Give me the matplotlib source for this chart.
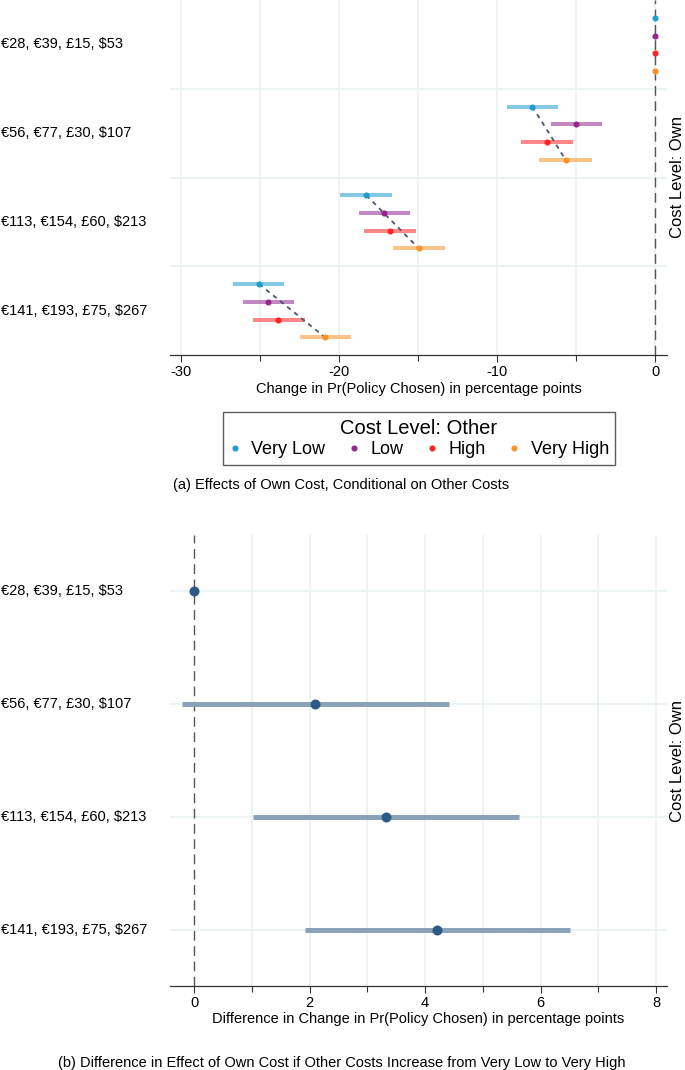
import matplotlib
matplotlib.use("Agg")
import matplotlib.pyplot as plt
import matplotlib.transforms as mtrans
from matplotlib.lines import Line2D
import numpy as np

plt.rcParams['font.family'] = ['Liberation Sans', 'DejaVu Sans']

# ---------------- data ----------------
own_levels = ["€28, €39, £15, $53", "€56, €77, £30, $107",
              "€113, €154, £60, $213", "€141, €193, £75, $267"]
other_levels = ["Very Low", "Low", "High", "Very High"]

est_very_low = [0, -7.78, -18.29, -25.08]
lo_very_low = [0, -9.41, -19.94, -26.73]
hi_very_low = [0, -6.18, -16.67, -23.48]

est_low = [0, -5.02, -17.15, -24.49]
lo_low = [0, -6.62, -18.77, -26.09]
hi_low = [0, -3.37, -15.51, -22.87]

est_high = [0, -6.85, -16.81, -23.86]
lo_high = [0, -8.48, -18.46, -25.44]
hi_high = [0, -5.21, -15.13, -22.16]

est_very_high = [0, -5.67, -14.96, -20.91]
lo_very_high = [0, -7.34, -16.61, -22.51]
hi_very_high = [0, -3.99, -13.32, -19.28]

diff_est = [0, 2.10, 3.32, 4.21]
diff_lo = [0, -0.22, 1.01, 1.92]
diff_hi = [0, 4.42, 5.63, 6.51]

top_xticks = [-30, -20, -10, 0]
top_minor = [-25, -15, -5]
bot_xticks = [0, 2, 4, 6, 8]
bot_minor = [1, 3, 5, 7]

# ---------------- styling ----------------
colors = ["#229cd0", "#93278f", "#ff2424", "#ff9326"]
grid_c = "#e9f1f3"
W, H = 685, 1070
fig = plt.figure(figsize=(W / 100, H / 100), dpi=100)


def fx(px):
    return px / W


def fy(py):
    return 1 - py / H


ax1 = fig.add_axes([fx(170), fy(355), fx(667) - fx(170), fy(0) - fy(355)])
ax2 = fig.add_axes([fx(170), fy(986), fx(667) - fx(170), fy(535) - fy(986)])

FS = 10.5


def style_axes(ax):
    for s in ["left", "right", "top"]:
        ax.spines[s].set_visible(False)
    ax.spines["bottom"].set_color("#333333")
    ax.spines["bottom"].set_linewidth(0.9)
    ax.tick_params(axis="x", which="major", length=5, width=0.8, color="#333333",
                   labelsize=FS, pad=2)
    ax.tick_params(axis="x", which="minor", length=4, width=0.8, color="#333333")
    ax.set_yticks([])


# ---------------- top panel ----------------
ests = [est_very_low, est_low, est_high, est_very_high]
los = [lo_very_low, lo_low, lo_high, lo_very_high]
his = [hi_very_low, hi_low, hi_high, hi_very_high]
offsets = [-0.3, -0.1, 0.1, 0.3]
n = len(own_levels)
base = np.arange(n)

style_axes(ax1)
ax1.set_xlim(-30.72, 0.75)
ax1.set_ylim(n - 0.5, -0.5)
for gx in np.arange(-30, 0.1, 5):
    ax1.axvline(gx, color=grid_c, lw=1.2, zorder=0)
for gy in np.arange(0.5, n - 0.6, 1):
    ax1.axhline(gy, color=grid_c, lw=1.2, zorder=0)
ax1.axvline(0, color="#555555", lw=1.0, dashes=(7, 4), zorder=1)

for k in range(4):
    y = base + offsets[k]
    ax1.hlines(y, los[k], his[k], color=colors[k], alpha=0.55, lw=2.9, zorder=2)
    ax1.plot(ests[k], y, "o", color=colors[k], ms=4.4, mec="none", zorder=4)

for i in range(1, n):
    ax1.plot([est_very_low[i], est_very_high[i]],
             [base[i] + offsets[0], base[i] + offsets[3]],
             color="#4b5670", lw=1.3, dashes=(2.5, 2.5), zorder=3)

ax1.set_xticks(top_xticks)
ax1.set_xticks(top_minor, minor=True)
ax1.set_xticklabels([str(t) for t in top_xticks])
ax1.set_xlabel("Change in Pr(Policy Chosen) in percentage points", fontsize=FS, labelpad=2)

# ---------------- bottom panel ----------------
style_axes(ax2)
ax2.set_xlim(-0.42, 8.19)
ax2.set_ylim(n - 0.5, -0.5)
for gx in range(1, 9):
    ax2.axvline(gx, color=grid_c, lw=1.2, zorder=0)
for gy in range(n):
    ax2.axhline(gy, color=grid_c, lw=1.2, zorder=0)
ax2.axvline(0, color="#555555", lw=1.0, dashes=(7, 4), zorder=1)
ax2.hlines(base, diff_lo, diff_hi, color="#8aa1b8", lw=3.6, zorder=2)
ax2.plot(diff_est, base, "o", color="#2d5985", ms=7.2, mec="none", zorder=4)
ax2.set_xticks(bot_xticks)
ax2.set_xticks(bot_minor, minor=True)
ax2.set_xticklabels([str(t) for t in bot_xticks])
ax2.set_xlabel("Difference in Change in Pr(Policy Chosen) in percentage points",
               fontsize=FS, labelpad=2)

# category labels (left aligned at figure edge)
for ax in (ax1, ax2):
    tr = mtrans.blended_transform_factory(fig.transFigure, ax.transData)
    for i, lab in enumerate(own_levels):
        ax.text(1 / W, i, lab, transform=tr, fontsize=FS, ha="left", va="center")

# right-side labels
fig.text(fx(678), (fy(0) + fy(355)) / 2, "Cost Level: Own", rotation=90,
         ha="center", va="center", fontsize=12)
fig.text(fx(678), (fy(535) + fy(986)) / 2, "Cost Level: Own", rotation=90,
         ha="center", va="center", fontsize=12)

# legend
handles = [Line2D([], [], marker="o", ls="none", color=c, ms=4.4, mec="none")
           for c in colors]
leg = fig.legend(handles, other_levels, loc="center",
                 bbox_to_anchor=(fx(419), fy(438.5)), ncol=4, fontsize=13,
                 title="Cost Level: Other", title_fontsize=14.5, frameon=True,
                 fancybox=False, edgecolor="#333333", handlelength=0.6,
                 handletextpad=0.6, columnspacing=1.3, borderpad=0.35,
                 labelspacing=0.2)
leg.get_frame().set_linewidth(1.0)

# captions
fig.text(fx(173), fy(485), "(a) Effects of Own Cost, Conditional on Other Costs",
         fontsize=FS, ha="left", va="center")
fig.text(fx(342), fy(1063),
         "(b) Difference in Effect of Own Cost if Other Costs Increase from Very Low to Very High",
         fontsize=FS, ha="center", va="center")

fig.savefig("out.png", dpi=100)
